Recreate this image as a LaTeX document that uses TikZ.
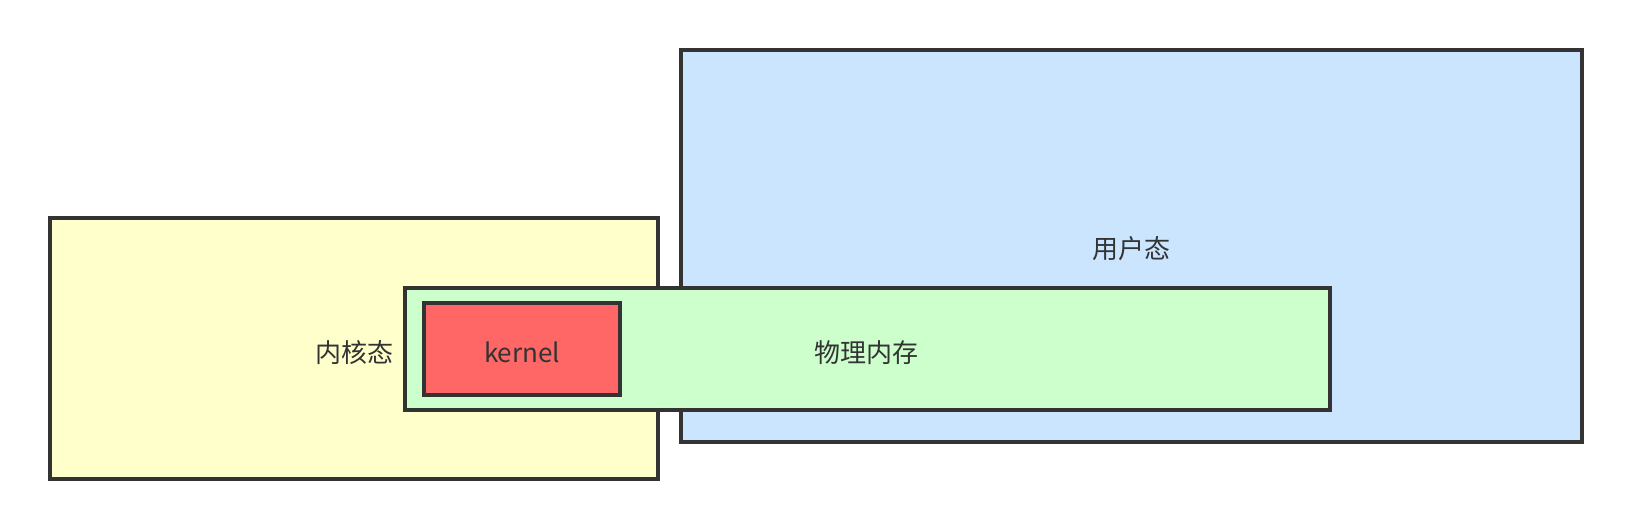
\documentclass[tikz,border=0pt]{standalone}
\usepackage{fontspec}
\setmainfont{Noto Sans CJK SC}
\begin{document}
\begin{tikzpicture}[x=1pt,y=-1pt,
  box/.style={draw=strokegray,line width=4pt},
  lbl/.style={text=textgray,font=\fontsize{26}{31}\selectfont,inner sep=0pt,anchor=center}]
\definecolor{strokegray}{HTML}{333333}
\definecolor{textgray}{HTML}{333333}
\definecolor{kyellow}{HTML}{FFFFCC}
\definecolor{ublue}{HTML}{CCE5FF}
\definecolor{mgreen}{HTML}{CCFFCC}
\definecolor{kred}{HTML}{FF6666}
\useasboundingbox (0,0) rectangle (1631,528);
\fill[white] (0,0) rectangle (1631,528);
\path[box,fill=kyellow] (50,218) rectangle (658,479);
\path[box,fill=ublue] (681,50) rectangle (1582,442);
\path[box,fill=mgreen] (404.5,288) rectangle (1330,410);
\path[box,fill=kred] (424,302.5) rectangle (620,395);
\node[lbl] (kstate) at (354.5,352.5) {内核态};
\node[lbl] (ustate) at (1131.5,248.5) {用户态};
\node[lbl] (mem) at (866.5,352.5) {物理内存};
\node[lbl] (kern) at (522,352.5) {kernel};
\end{tikzpicture}
\end{document}
